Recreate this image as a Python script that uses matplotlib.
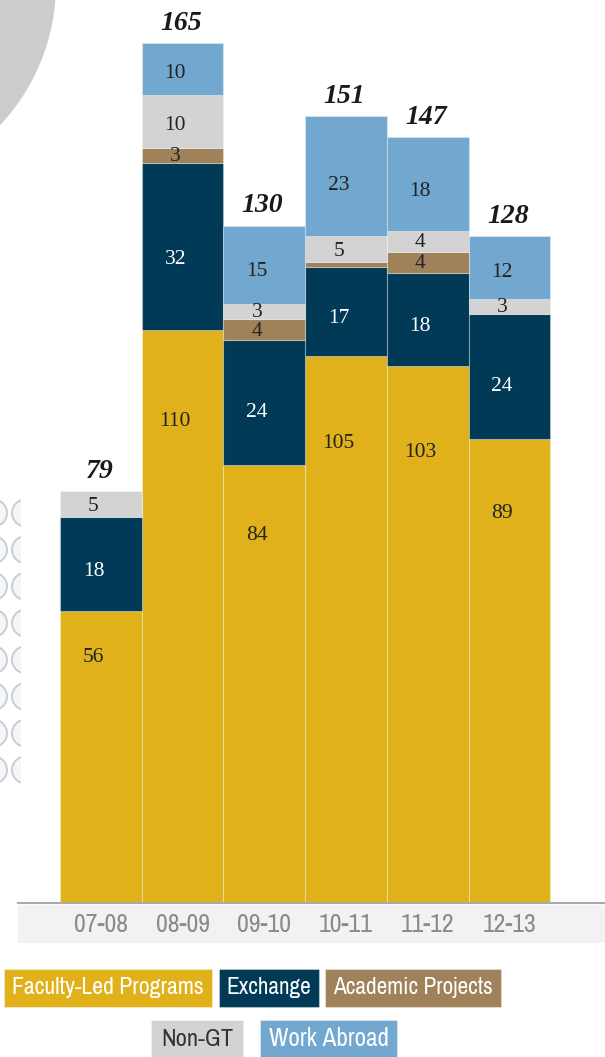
import matplotlib
matplotlib.use("Agg")

import matplotlib.pyplot as plt
import matplotlib.transforms as mtransforms
import numpy as np
from matplotlib import font_manager
from matplotlib.font_manager import FontProperties
from matplotlib.patches import Circle, Rectangle


YEARS = ["07-08", "08-09", "09-10", "10-11", "11-12", "12-13"]

FACULTY = [56, 110, 84, 105, 103, 89]
EXCHANGE = [18, 32, 24, 17, 18, 24]
ACADEMIC = [0, 3, 4, 1, 4, 0]
NON_GT = [5, 10, 3, 5, 4, 3]
WORK_ABROAD = [0, 10, 15, 23, 18, 12]

TOTALS = [79, 165, 130, 151, 147, 128]

SERIES = [
    ("Faculty-Led Programs", FACULTY, "#E0B11B", "#222222"),
    ("Exchange", EXCHANGE, "#003A57", "white"),
    ("Academic Projects", ACADEMIC, "#A0825A", "#222222"),
    ("Non-GT", NON_GT, "#D3D3D3", "#222222"),
    ("Work Abroad", WORK_ABROAD, "#72A8CF", "#222222"),
]

W, H = 605, 1057
PX_PER_UNIT = 5.21
BASELINE = 903
SERIF = ["Liberation Serif", "DejaVu Serif"]


def narrow_font():

    # look for any condensed sans face; the original uses a narrow sans
    rank = {"ultra-condensed": 0, "extra-condensed": 1, "condensed": 2, "semi-condensed": 3}
    found = []
    for f in font_manager.fontManager.ttflist:
        stretch = str(f.stretch)
        if stretch in rank and f.style == "normal" and f.weight in (400, "normal", "regular"):
            if "Mono" in f.name or "Serif" in f.name:
                continue
            found.append((rank[stretch], f.name, f.fname))
    if found:
        found.sort()
        return FontProperties(fname=found[0][2])
    return FontProperties(family=["Roboto", "DejaVu Sans"])


def fit_width(fig, text, target):

    renderer = fig.canvas.get_renderer()
    width = text.get_window_extent(renderer).width
    text.set_fontsize(text.get_fontsize() * target / width)


def main():

    fig = plt.figure(figsize=(W / 100, H / 100), dpi=100)
    narrow = narrow_font()

    # background layer in pixel coordinates (y from top)
    bg = fig.add_axes([0, 0, 1, 1])
    bg.set_xlim(0, W)
    bg.set_ylim(H, 0)
    bg.axis("off")

    bg.add_patch(Circle((-150, -16), 206, color="#CCCCCC", lw=0))

    clip = Rectangle((0, 0), 21, H, transform=bg.transData)
    for row in range(8):
        cy = 513 + row * 36.7
        for cx in (-6.5, 25.5):
            ring = Circle(
                (cx, cy),
                13.5,
                facecolor="#F4F6F8",
                edgecolor="#C9CED4",
                lw=1.4,
            )
            bg.add_patch(ring)
            ring.set_clip_path(clip)

    bg.add_patch(Rectangle((18, 905), 587, 38, color="#F2F2F2", lw=0))

    # main chart
    ax_h = 170 * PX_PER_UNIT
    ax = fig.add_axes([18 / W, (H - BASELINE) / H, 587 / W, ax_h / H])
    ax.set_facecolor("none")
    ax.set_xlim(-1.014, 6.17)
    ax.set_ylim(0, 170)

    x = np.arange(len(YEARS))
    bottom = np.zeros(len(YEARS))

    for name, values, color, text_color in SERIES:

        values = np.array(values, dtype=float)
        mask = values > 0

        ax.bar(
            x[mask],
            values[mask],
            1.0,
            bottom=bottom[mask],
            color=color,
            edgecolor=(1, 1, 1, 0.3),
            lw=0.8,
            zorder=2,
        )

        frac = 0.84 if name == "Faculty-Led Programs" else 0.42
        for i in x:
            if values[i] > 1:
                ax.text(
                    i - 0.09,
                    bottom[i] + values[i] * frac,
                    f"{values[i]:.0f}",
                    ha="center",
                    va="center",
                    fontsize=15.5,
                    family=SERIF,
                    color=text_color,
                    zorder=3,
                )

        bottom += values

    for i, total in enumerate(TOTALS):
        ax.text(
            i - 0.02,
            total + 3.8,
            str(total),
            ha="center",
            va="center",
            fontsize=20,
            family=SERIF,
            weight="bold",
            style="italic",
            color="#1A1A1A",
        )

    for side in ("top", "left", "right"):
        ax.spines[side].set_visible(False)
    ax.spines["bottom"].set_color("#A9A9A9")
    ax.spines["bottom"].set_linewidth(1.5)
    ax.set_xticks([])
    ax.set_yticks([])

    trans = mtransforms.blended_transform_factory(ax.transData, ax.transAxes)
    for i, year in enumerate(YEARS):
        t = ax.text(
            i,
            -22 / ax_h,
            year,
            transform=trans,
            ha="center",
            va="center",
            fontproperties=narrow,
            fontsize=18,
            color="#8A8A8A",
        )
        fit_width(fig, t, 54)

    # legend boxes
    boxes = [
        (4, 969, 208, 38, 192),
        (219, 969, 100, 38, 85),
        (325, 969, 176, 38, 160),
        (151, 1020, 92, 38, 72),
        (260, 1020, 137, 38, 120),
    ]

    for (name, values, color, text_color), box in zip(SERIES, boxes):

        bx, by, bw, bh, tw = box

        bg.add_patch(
            Rectangle(
                (bx, by),
                bw,
                bh,
                facecolor=color,
                edgecolor=(1, 1, 1, 0.35),
                lw=0.8,
            )
        )

        label_color = "#333333" if name == "Non-GT" else "white"
        t = bg.text(
            bx + bw / 2,
            by + bh / 2,
            name,
            ha="center",
            va="center",
            fontproperties=narrow,
            fontsize=18,
            color=label_color,
        )
        fit_width(fig, t, tw)

    fig.savefig("out.png", dpi=100)

    plt.close(fig)


if __name__ == "__main__":

    main()
